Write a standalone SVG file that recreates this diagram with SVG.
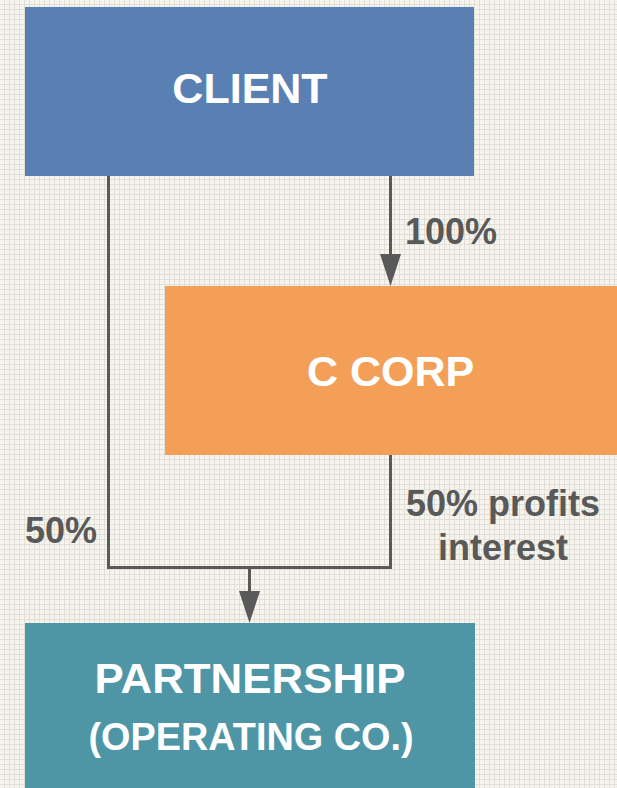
<svg xmlns="http://www.w3.org/2000/svg" width="617" height="788" viewBox="0 0 617 788">
  <style>
    .box-text { font-family: "Liberation Sans", Arial, sans-serif; font-weight: bold; fill: #ffffff; text-anchor: middle; }
    .label { font-family: "Liberation Sans", Arial, sans-serif; font-weight: bold; fill: #595959; font-size: 36px; }
    .wire { fill: none; stroke: #595959; stroke-width: 3; }
    .head { fill: #595959; }
  </style>
  <defs>
    <!-- fine woven grid texture for the page -->
    <pattern id="weave" width="5" height="5" patternUnits="userSpaceOnUse">
      <rect width="5" height="5" fill="#f6f5f0"/>
      <rect x="4" y="0" width="1" height="5" fill="#e0ded5"/>
      <rect x="0" y="4" width="5" height="1" fill="#e0ded5"/>
      <rect x="1" y="1" width="1" height="1" fill="#ebe9e2"/>
    </pattern>
  </defs>

  <rect width="617" height="788" fill="url(#weave)"/>

  <g id="connectors">
    <!-- client ownership lines into the partnership -->
    <path class="wire" d="M108.5,176 V567.5 H390.5 V455"/>
    <line class="wire" x1="249.5" y1="567" x2="249.5" y2="595"/>
    <path class="head" d="M239,591 L260,591 L249.5,623 Z"/>
    <!-- client to C corp -->
    <line class="wire" x1="390.5" y1="176" x2="390.5" y2="258"/>
    <path class="head" d="M380,254 L401,254 L390.5,286 Z"/>
  </g>

  <g id="client">
    <rect x="25" y="7" width="449" height="169" fill="#5a80b3"/>
    <text class="box-text" x="250" y="103" font-size="43">CLIENT</text>
  </g>

  <g id="ccorp">
    <rect x="165" y="286" width="460" height="169" fill="#f49f58"/>
    <text class="box-text" x="390.5" y="386" font-size="43">C CORP</text>
  </g>

  <g id="partnership">
    <rect x="25" y="623" width="450" height="170" fill="#4e96a6"/>
    <text class="box-text" x="250" y="693" font-size="42" textLength="311" lengthAdjust="spacingAndGlyphs">PARTNERSHIP</text>
    <text class="box-text" x="251" y="750" font-size="38" textLength="325" lengthAdjust="spacingAndGlyphs">(OPERATING CO.)</text>
  </g>

  <g id="labels">
    <text class="label" x="405" y="244">100%</text>
    <text class="label" x="25" y="543">50%</text>
    <text class="label" x="503" y="516" text-anchor="middle" font-size="37">50% profits</text>
    <text class="label" x="503" y="560" text-anchor="middle" font-size="37">interest</text>
  </g>
</svg>
